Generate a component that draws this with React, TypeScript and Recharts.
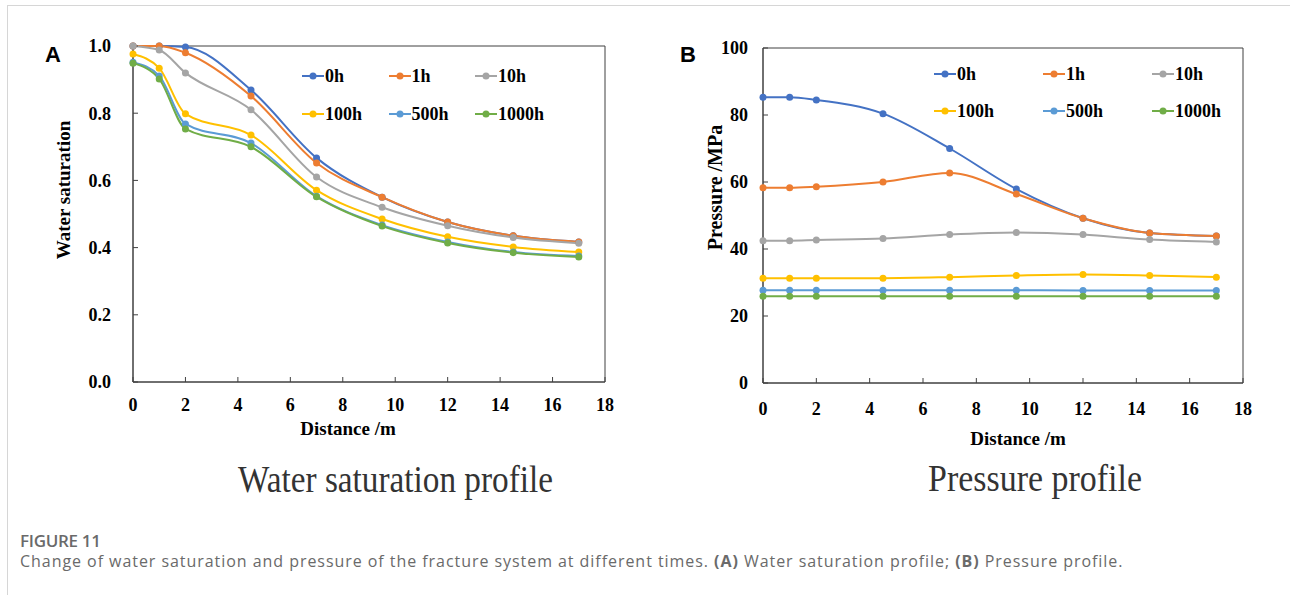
import React from 'react';
import { LineChart, Line, XAxis, YAxis, ReferenceArea, Legend } from 'recharts';

const distance = [0, 1, 2, 4.5, 7, 9.5, 12, 14.5, 17];
const seriesNames = ['0h', '1h', '10h', '100h', '500h', '1000h'];
const seriesColors = ['#4472C4', '#ED7D31', '#A5A5A5', '#FFC000', '#5B9BD5', '#70AD47'];

const sat0h = [1.0, 1.0, 0.997, 0.869, 0.667, 0.55, 0.476, 0.435, 0.417];
const sat1h = [1.0, 1.0, 0.98, 0.851, 0.652, 0.55, 0.476, 0.435, 0.417];
const sat10h = [1.0, 0.988, 0.92, 0.81, 0.61, 0.52, 0.465, 0.43, 0.413];
const sat100h = [0.976, 0.934, 0.798, 0.735, 0.571, 0.485, 0.432, 0.402, 0.387];
const sat500h = [0.952, 0.911, 0.768, 0.711, 0.553, 0.467, 0.417, 0.387, 0.375];
const sat1000h = [0.949, 0.902, 0.753, 0.7, 0.551, 0.464, 0.414, 0.385, 0.372];

const pre0h = [85.3, 85.3, 84.5, 80.4, 70.0, 57.9, 49.2, 44.8, 43.9];
const pre1h = [58.3, 58.3, 58.6, 60.0, 62.7, 56.4, 49.2, 44.8, 43.9];
const pre10h = [42.5, 42.5, 42.7, 43.1, 44.3, 44.9, 44.3, 42.8, 42.1];
const pre100h = [31.3, 31.3, 31.3, 31.3, 31.6, 32.1, 32.4, 32.1, 31.6];
const pre500h = [27.7, 27.7, 27.7, 27.7, 27.7, 27.7, 27.6, 27.6, 27.6];
const pre1000h = [25.9, 25.9, 25.9, 25.9, 25.9, 25.9, 25.9, 25.9, 25.9];

const xTicks = [0, 2, 4, 6, 8, 10, 12, 14, 16, 18];
const satTicks = [0, 0.2, 0.4, 0.6, 0.8, 1.0];
const preTicks = [0, 20, 40, 60, 80, 100];

const satSeries = [sat0h, sat1h, sat10h, sat100h, sat500h, sat1000h];
const preSeries = [pre0h, pre1h, pre10h, pre100h, pre500h, pre1000h];

const buildRows = (series: number[][]) =>
  distance.map((d, i) => {
    const row: Record<string, number> = { x: d };
    seriesNames.forEach((n, k) => {
      row[n] = series[k][i];
    });
    return row;
  });

const satData = buildRows(satSeries);
const preData = buildRows(preSeries);

const SERIF = "'Liberation Serif', 'Times New Roman', serif";
const AXIS = '#404040';

const makeLegend = (colW: number, rowH: number) => () => (
  <div style={{ position: 'relative', width: colW * 3, height: rowH * 2 }}>
    {seriesNames.map((n, i) => (
      <div
        key={n}
        style={{
          position: 'absolute',
          left: (i % 3) * colW,
          top: Math.floor(i / 3) * rowH,
          height: 24,
          display: 'flex',
          alignItems: 'center',
          whiteSpace: 'nowrap',
        }}
      >
        <svg width={22} height={24} style={{ display: 'block' }}>
          <line x1={0} y1={12} x2={22} y2={12} stroke={seriesColors[i]} strokeWidth={2} />
          <circle cx={11} cy={12} r={3.5} fill={seriesColors[i]} />
        </svg>
        <span style={{ fontFamily: SERIF, fontWeight: 700, fontSize: 18, color: '#000', marginLeft: 1 }}>{n}</span>
      </div>
    ))}
  </div>
);

const tickStyle = { fontFamily: SERIF, fontWeight: 700, fontSize: 18, fill: '#000' };

export default function App() {
  return (
    <div style={{ position: 'absolute', left: 0, top: 0, width: 1290, height: 595, background: '#fff', overflow: 'hidden' }}>
      <div
        style={{
          position: 'absolute',
          left: 7,
          top: 5,
          width: 1290,
          height: 600,
          borderTop: '1px solid #d6d6d6',
          borderLeft: '1px solid #d6d6d6',
        }}
      />
      <div style={{ position: 'absolute', left: 45, top: 40, fontFamily: "'Liberation Sans', Arial, sans-serif", fontWeight: 700, fontSize: 22, lineHeight: '30px' }}>A</div>
      <div style={{ position: 'absolute', left: 680, top: 40, fontFamily: "'Liberation Sans', Arial, sans-serif", fontWeight: 700, fontSize: 22, lineHeight: '30px' }}>B</div>

      <div style={{ position: 'absolute', left: 0, top: 0 }}>
        <LineChart width={640} height={460} data={satData} margin={{ top: 46, right: 35, bottom: 0, left: 0 }}>
          <XAxis
            dataKey="x"
            type="number"
            domain={[0, 18]}
            ticks={xTicks}
            interval={0}
            height={78}
            tickSize={-5}
            tickMargin={21}
            tick={tickStyle}
            axisLine={{ stroke: AXIS }}
            tickLine={{ stroke: AXIS }}
            label={{ value: 'Distance /m', position: 'center', dx: -21, dy: 7, style: { fontFamily: SERIF, fontWeight: 700, fontSize: 19, fill: '#000' } }}
          />
          <YAxis
            type="number"
            domain={[0, 1]}
            ticks={satTicks}
            interval={0}
            width={133}
            tickSize={-5}
            tickMargin={27}
            tick={tickStyle}
            tickFormatter={(v: number) => v.toFixed(1)}
            axisLine={{ stroke: AXIS }}
            tickLine={{ stroke: AXIS }}
            label={{ value: 'Water saturation', angle: -90, position: 'center', dx: -3, dy: -24, style: { fontFamily: SERIF, fontWeight: 700, fontSize: 19, fill: '#000' } }}
          />
          <ReferenceArea x1={0} x2={18} y1={0} y2={1} fill="none" stroke={AXIS} strokeWidth={1} ifOverflow="visible" />
          {seriesNames.map((n, i) => (
            <Line
              key={n}
              type="monotone"
              dataKey={n}
              stroke={seriesColors[i]}
              strokeWidth={2}
              dot={{ r: 3.5, fill: seriesColors[i], stroke: seriesColors[i], strokeWidth: 0 }}
              isAnimationActive={false}
            />
          ))}
          <Legend
            verticalAlign="middle"
            align="center"
            layout="horizontal"
            content={makeLegend(86.5, 38)}
            wrapperStyle={{ left: 302, top: 64, width: 270, height: 70 }}
          />
        </LineChart>
      </div>

      <div style={{ position: 'absolute', left: 650, top: 0 }}>
        <LineChart width={640} height={460} data={preData} margin={{ top: 48, right: 47, bottom: 0, left: 0 }}>
          <XAxis
            dataKey="x"
            type="number"
            domain={[0, 18]}
            ticks={xTicks}
            interval={0}
            height={77}
            tickSize={-5}
            tickMargin={24}
            tick={tickStyle}
            axisLine={{ stroke: AXIS }}
            tickLine={{ stroke: AXIS }}
            label={{ value: 'Distance /m', position: 'center', dx: 15, dy: 17, style: { fontFamily: SERIF, fontWeight: 700, fontSize: 19, fill: '#000' } }}
          />
          <YAxis
            type="number"
            domain={[0, 100]}
            ticks={preTicks}
            interval={0}
            width={113}
            tickSize={-5}
            tickMargin={20}
            tick={tickStyle}
            axisLine={{ stroke: AXIS }}
            tickLine={{ stroke: AXIS }}
            label={{ value: 'Pressure /MPa', angle: -90, position: 'center', dx: 8, dy: -28, style: { fontFamily: SERIF, fontWeight: 700, fontSize: 20, fill: '#000' } }}
          />
          <ReferenceArea x1={0} x2={18} y1={0} y2={100} fill="none" stroke={AXIS} strokeWidth={1} ifOverflow="visible" />
          {seriesNames.map((n, i) => (
            <Line
              key={n}
              type="monotone"
              dataKey={n}
              stroke={seriesColors[i]}
              strokeWidth={2}
              dot={{ r: 3.5, fill: seriesColors[i], stroke: seriesColors[i], strokeWidth: 0 }}
              isAnimationActive={false}
            />
          ))}
          <Legend
            verticalAlign="middle"
            align="center"
            layout="horizontal"
            content={makeLegend(109, 37)}
            wrapperStyle={{ left: 284, top: 62, width: 330, height: 70 }}
          />
        </LineChart>
      </div>

      <svg style={{ position: 'absolute', left: 0, top: 0 }} width={1290} height={595}>
        <text x={238} y={492} fontFamily={SERIF} fontSize={37} fill="#333" textLength={315} lengthAdjust="spacingAndGlyphs">
          Water saturation profile
        </text>
        <text x={928} y={491} fontFamily={SERIF} fontSize={37} fill="#333" textLength={214} lengthAdjust="spacingAndGlyphs">
          Pressure profile
        </text>
      </svg>

      <div style={{ position: 'absolute', left: 20, top: 530, fontFamily: "'Open Sans', sans-serif", fontSize: 17, fontWeight: 600, color: '#6a6a6a', lineHeight: '22px', letterSpacing: -0.3 }}>
        FIGURE 11
      </div>
      <div style={{ position: 'absolute', left: 20, top: 550, fontFamily: "'Open Sans', sans-serif", fontSize: 16, color: '#6a6a6a', lineHeight: '22px', whiteSpace: 'nowrap', letterSpacing: 0.95 }}>
        Change of water saturation and pressure of the fracture system at different times. <b>(A)</b> Water saturation profile; <b>(B)</b> Pressure profile.
      </div>
    </div>
  );
}
